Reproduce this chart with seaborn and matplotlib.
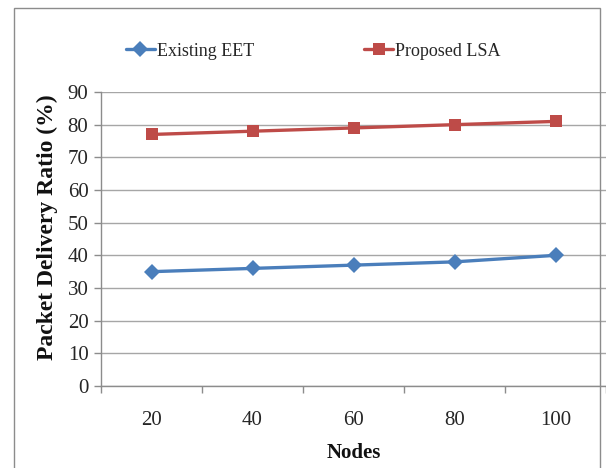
import matplotlib
matplotlib.use("Agg")
import matplotlib.pyplot as plt
from matplotlib.lines import Line2D
from matplotlib.patches import Rectangle
import seaborn as sns
import pandas as pd

# Packet delivery ratio per network size
nodes = [20, 40, 60, 80, 100]
existing_eet = [35, 36, 37, 38, 40]
proposed_lsa = [77, 78, 79, 80, 81]
series_names = ["Existing EET", "Proposed LSA"]
y_ticks = [0, 10, 20, 30, 40, 50, 60, 70, 80, 90]

colors = {"Existing EET": "#4a7ebb", "Proposed LSA": "#be4b48"}
markers = {"Existing EET": "D", "Proposed LSA": "s"}

df = pd.DataFrame({
    "pos": list(range(len(nodes))) * 2,
    "pdr": existing_eet + proposed_lsa,
    "series": [series_names[0]] * len(nodes) + [series_names[1]] * len(nodes),
})

sns.set_theme(style="white")
plt.rcParams["font.family"] = ["Liberation Serif", "DejaVu Serif"]

fig = plt.figure(figsize=(6.06, 4.68), dpi=100)
W, H = 606, 468
ax = fig.add_axes([101 / W, 1 - 386 / H, (606 - 101) / W, (386 - 92) / H])

sns.lineplot(data=df, x="pos", y="pdr", hue="series", style="series",
             palette=colors, markers=markers, dashes=False,
             markersize=8.5, linewidth=2.4, markeredgewidth=0,
             legend=False, ax=ax)

ax.set_xlim(-0.5, len(nodes) - 0.5)
ax.set_ylim(0, 90)
ax.set_yticks(y_ticks)
ax.set_xticks(range(len(nodes)))
ax.set_xticklabels([str(n) for n in nodes])
ax.set_xticks([i - 0.5 for i in range(len(nodes) + 1)], minor=True)

grid_c = "#a6a6a6"
axis_c = "#8c8c8c"
ax.yaxis.grid(True, color=grid_c, linewidth=1.0)
ax.xaxis.grid(False)
ax.set_axisbelow(True)
for side in ["top", "right"]:
    ax.spines[side].set_visible(False)
for side in ["left", "bottom"]:
    ax.spines[side].set_color(axis_c)
    ax.spines[side].set_linewidth(1.0)

ax.tick_params(axis="y", which="major", direction="out", length=5, width=1,
               color=axis_c, labelsize=15, labelcolor="#262626", pad=4, left=True)
ax.tick_params(axis="x", which="major", length=0, labelsize=15,
               labelcolor="#262626", pad=18)
ax.tick_params(axis="x", which="minor", direction="out", length=5, width=1,
               color=axis_c, bottom=True)

ax.set_xlabel("Nodes", fontsize=15, fontweight="bold", color="#111111")
ax.set_ylabel("Packet Delivery Ratio (%)", fontsize=17, fontweight="bold",
              color="#111111")
ax.xaxis.set_label_coords(0.5, (386 - 443) / 294)
ax.yaxis.set_label_coords((58 - 101) / 505, (386 - 227) / 294)

handles = [Line2D([], [], color=colors[s], marker=markers[s], markersize=8.5,
                  markeredgewidth=0, linewidth=2.4) for s in series_names]
fig.legend(handles, series_names, loc="center left",
           bbox_to_anchor=(126 / W, 1 - 51 / H), ncol=2, frameon=False,
           fontsize=13, handlelength=1.6, handletextpad=0.1,
           columnspacing=6.1, borderpad=0, borderaxespad=0)

# outer chart frame
fig.patches.append(Rectangle((14 / W, -0.2), (600 - 14) / W, 1.2 - 8 / H,
                             transform=fig.transFigure, fill=False,
                             edgecolor="#8c8c8c", linewidth=1.0, zorder=10))

fig.savefig("out.png", dpi=100)
